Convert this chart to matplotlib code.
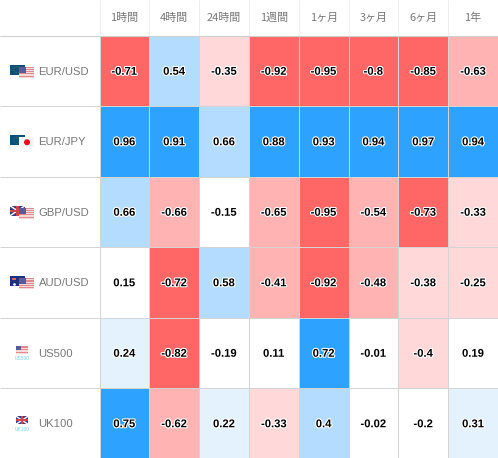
import matplotlib
matplotlib.use('Agg')
from matplotlib import pyplot as plt
from matplotlib.colors import ListedColormap, BoundaryNorm
from matplotlib.patches import Rectangle, Circle
import matplotlib.patheffects as pe
import numpy as np

periods = ['1時間', '4時間', '24時間', '1週間', '1ヶ月', '3ヶ月', '6ヶ月', '1年']
symbols = ['EUR/USD', 'EUR/JPY', 'GBP/USD', 'AUD/USD', 'US500', 'UK100']

eurusd = [-0.71, 0.54, -0.35, -0.92, -0.95, -0.8, -0.85, -0.63]
eurjpy = [0.96, 0.91, 0.66, 0.88, 0.93, 0.94, 0.97, 0.94]
gbpusd = [0.66, -0.66, -0.15, -0.65, -0.95, -0.54, -0.73, -0.33]
audusd = [0.15, -0.72, 0.58, -0.41, -0.92, -0.48, -0.38, -0.25]
us500 = [0.24, -0.82, -0.19, 0.11, 0.72, -0.01, -0.4, 0.19]
uk100 = [0.75, -0.62, 0.22, -0.33, 0.4, -0.02, -0.2, 0.31]

values = np.array([eurusd, eurjpy, gbpusd, audusd, us500, uk100])

# colores por banda, de mas negativo a mas positivo
colors = ['#ff6666', '#ffb3b3', '#ffd9d9', '#ffffff', '#e3f2fd', '#b3dcff', '#2ea2ff']


def band(v):
    if v <= -0.7:
        return 0
    if v < -0.4:
        return 1
    if v < -0.2:
        return 2
    if v < 0.2:
        return 3
    if v < 0.4:
        return 4
    if v < 0.7:
        return 5
    return 6


bands = np.vectorize(band)(values)

fig = plt.figure(figsize=(4.98, 4.58), dpi=100)
ax = fig.add_axes([0, 0, 1, 1])
ax.set_xlim(0, 498)
ax.set_ylim(458, 0)
ax.axis('off')

x_edges = np.linspace(99.5, 498, len(periods) + 1)
y_edges = np.linspace(35.5, 458.5, len(symbols) + 1)

cmap = ListedColormap(colors)
norm = BoundaryNorm(np.arange(-0.5, 7.5), cmap.N)
ax.pcolormesh(x_edges, y_edges, bands, cmap=cmap, norm=norm,
              edgecolors='#d4d4d4', linewidth=0.55)

# lineas de la cabecera y de la primera columna
for x in x_edges[:-1]:
    ax.plot([x, x], [0, 36], color='#ececec', lw=0.6, solid_capstyle='butt')
for y in y_edges[:-1]:
    ax.plot([0, 100], [y, y], color='#d4d4d4', lw=0.7, solid_capstyle='butt')
ax.plot([0, 498], [35.5, 35.5], color='#d0d0d0', lw=0.8, solid_capstyle='butt')

xc = (x_edges[:-1] + x_edges[1:]) / 2
yc = (y_edges[:-1] + y_edges[1:]) / 2

for j, p in enumerate(periods):
    ax.text(xc[j], 18, p, ha='center', va='center', fontsize=7.9, color='#777777',
            family=['Noto Sans CJK JP', 'DejaVu Sans'])

halo = [pe.withStroke(linewidth=1.6, foreground='white')]
for i in range(len(symbols)):
    ax.text(38.5, yc[i] + 1, symbols[i], ha='left', va='center', fontsize=8.1,
            color='#777777', family='Liberation Sans')
    for j in range(len(periods)):
        ax.text(xc[j], yc[i] + 1, f'{values[i, j]:g}', ha='center', va='center',
                fontsize=8.1, fontweight='bold', color='black',
                family='Liberation Sans', path_effects=halo)


def rect(x, y, w, h, c, z=3):
    ax.add_patch(Rectangle((x, y), w, h, facecolor=c, edgecolor='none', zorder=z))


def flag_us(x, y, w, h, z=4):
    rect(x, y, w, h, '#f6d9d9', z)
    for k in range(0, 5):
        rect(x, y + k * h / 5, w, h / 10, '#e08a8f', z)
    rect(x, y, w * 0.45, h * 0.55, '#5a5a96', z + 1)


def flag_eu(x, y, w, h, z=3):
    rect(x, y, w, h, '#0f4f78', z)
    ax.add_patch(Circle((x + w * 0.45, y + h / 2), h * 0.3, fill=False,
                        edgecolor='#4f8f50', lw=0.5, ls=':', zorder=z))


def flag_uk(x, y, w, h, z=3):
    rect(x, y, w, h, '#3a3f80', z)
    ax.plot([x, x + w], [y, y + h], color='white', lw=1.0, zorder=z)
    ax.plot([x, x + w], [y + h, y], color='white', lw=1.0, zorder=z)
    rect(x + w * 0.4, y, w * 0.2, h, '#d8404a', z)
    rect(x, y + h * 0.4, w, h * 0.2, '#d8404a', z)


def flag_au(x, y, w, h, z=3):
    rect(x, y, w, h, '#1f2f80', z)
    rect(x + w * 0.1, y + h * 0.2, w * 0.3, h * 0.15, '#e06060', z)
    ax.plot([x + w * 0.7], [y + h * 0.5], '.', color='white', ms=1.5, zorder=z)
    ax.plot([x + w * 0.25], [y + h * 0.75], '.', color='white', ms=1.8, zorder=z)


# banderas de cada simbolo
fx, fw, fh = 10, 15, 10
flag_eu(fx, yc[0] - 6, fw, fh)
flag_us(19, yc[0] - 4, 15, 11)
flag_eu(fx, yc[1] - 6, fw, fh)
rect(19, yc[1] - 4, 15, 10, '#f5f5f5', 4)
ax.add_patch(Circle((27, yc[1] + 1), 3, facecolor='#e8101c', edgecolor='none', zorder=5))
flag_uk(fx, yc[2] - 6, fw, fh)
flag_us(19, yc[2] - 4, 15, 11)
flag_au(fx, yc[3] - 6, fw, fh)
flag_us(19, yc[3] - 4, 15, 11)

flag_us(16, yc[4] - 7, 12, 8)
ax.text(22, yc[4] + 6, 'US500', ha='center', va='center', fontsize=3.5,
        color='#6fd0f5', family='Liberation Sans')
flag_uk(16, yc[5] - 7, 12, 8)
ax.text(22, yc[5] + 6, 'UK100', ha='center', va='center', fontsize=3.5,
        color='#6fd0f5', family='Liberation Sans')

fig.savefig('out.png', dpi=100)
